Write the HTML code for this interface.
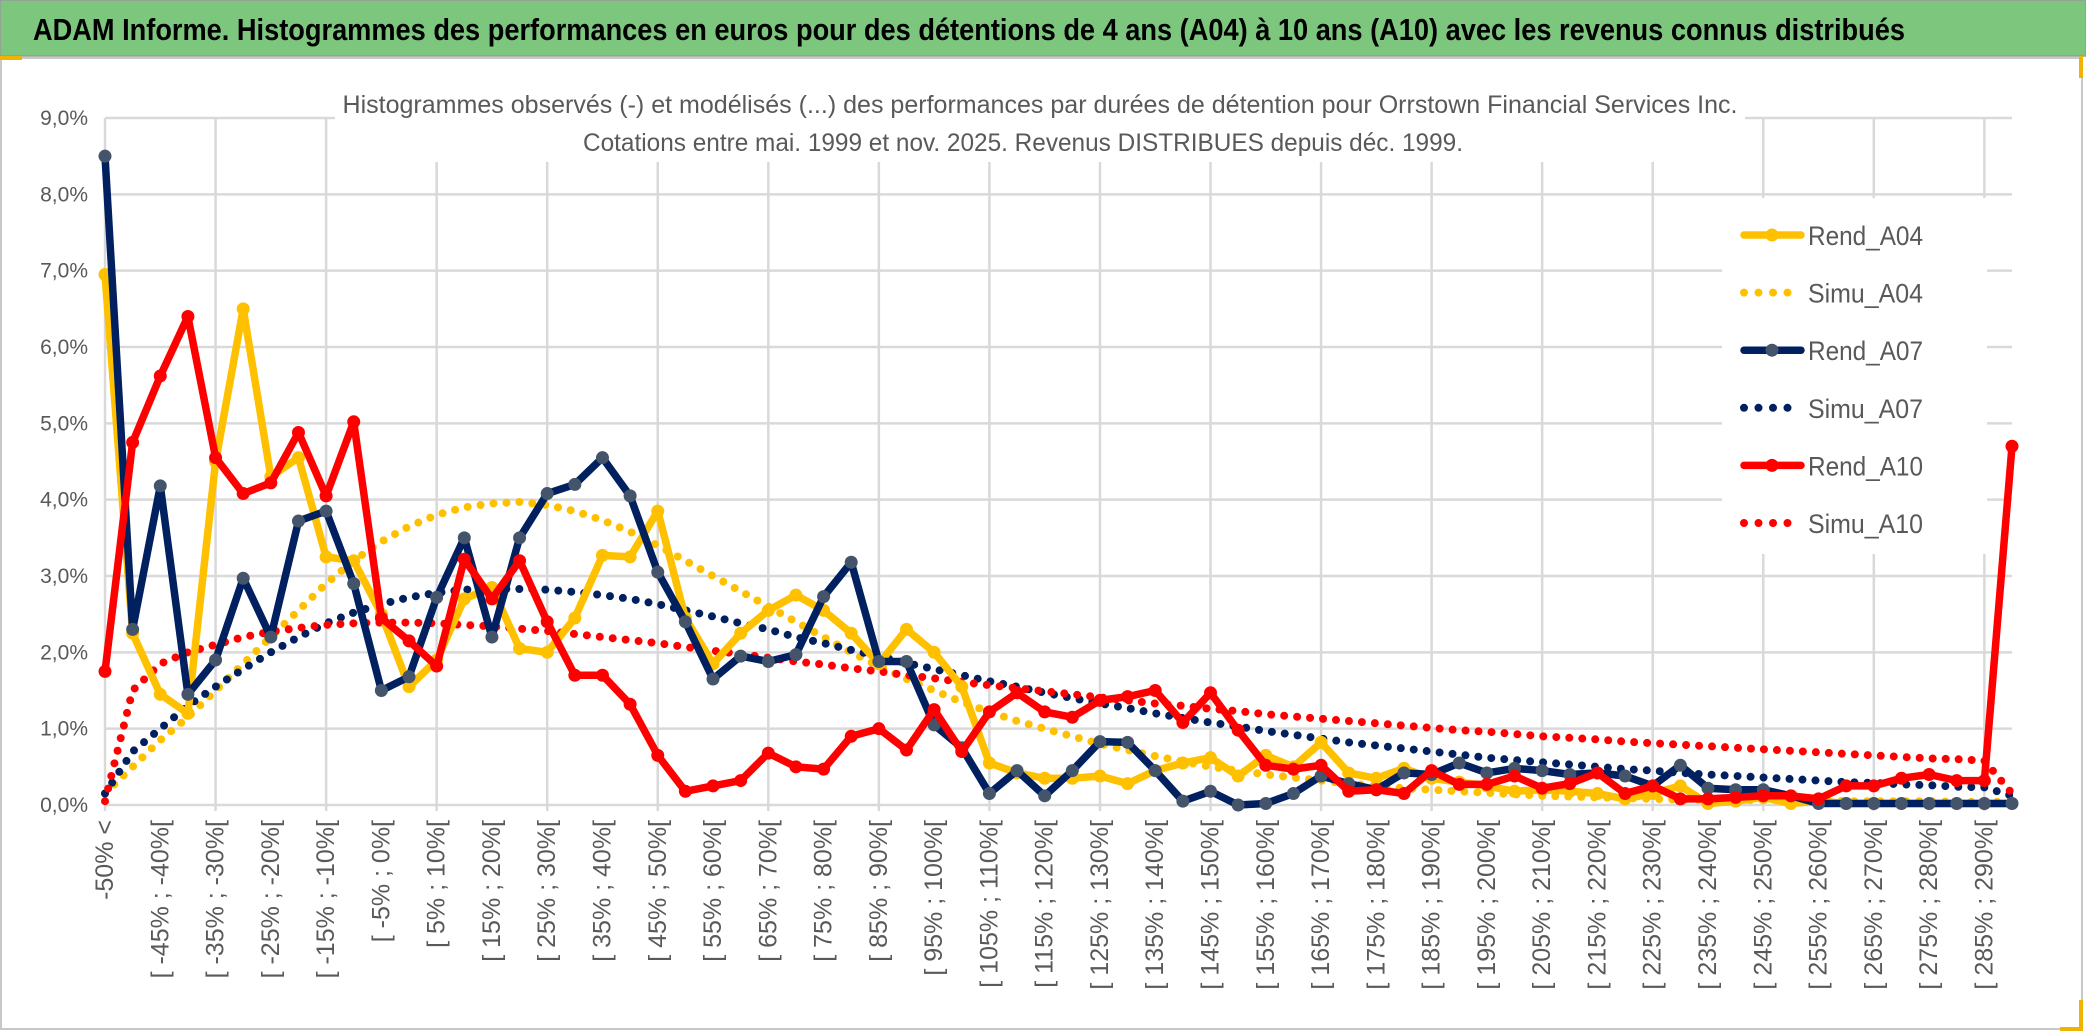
<!DOCTYPE html>
<html><head><meta charset="utf-8"><style>
html,body{margin:0;padding:0;background:#fff;}
svg{display:block;font-family:"Liberation Sans",sans-serif;}
</style></head><body>
<svg id="chart" width="2086" height="1033" viewBox="0 0 2086 1033" xmlns="http://www.w3.org/2000/svg">
<rect x="0" y="0" width="2086" height="1033" fill="#fff"/>
<rect x="0" y="0" width="2086" height="56" fill="#7dc67d" stroke="#9a9a9a" stroke-width="1.5"/>
<text x="33" y="40" font-size="31" font-weight="bold" fill="#000" textLength="1872" lengthAdjust="spacingAndGlyphs">ADAM Informe. Histogrammes des performances en euros pour des détentions de 4 ans (A04) à 10 ans (A10) avec les revenus connus distribués</text>
<rect x="1" y="58" width="2081" height="971" fill="#fff" stroke="#c8c8c8" stroke-width="2"/>
<rect x="0" y="56" width="22" height="4" fill="#f0b400"/>
<rect x="2079" y="56" width="4" height="22" fill="#f0b400"/>
<rect x="2079" y="1000" width="4" height="30" fill="#f0b400"/>
<rect x="2060" y="1027" width="23" height="4" fill="#f0b400"/>
<g id="grid"></g>
<g id="yaxis"></g>
<g id="xaxis"></g>
<rect x="335" y="82" width="1410" height="80" fill="#fff"/>
<text x="1040" y="113" font-size="25" fill="#595959" text-anchor="middle" textLength="1395" lengthAdjust="spacingAndGlyphs">Histogrammes observés (-) et modélisés (...) des performances par durées de détention pour Orrstown Financial Services Inc.</text>
<text x="1023" y="151" font-size="25" fill="#595959" text-anchor="middle" textLength="880" lengthAdjust="spacingAndGlyphs">Cotations entre mai. 1999 et nov. 2025. Revenus DISTRIBUES depuis déc. 1999.</text>
<g id="series"></g>
<rect x="1722" y="198" width="265" height="356" fill="#fff"/>
<g id="legend"></g>
</svg>
<script>
const categories = ["-50% <"];
for (let a = -50; a < 295; a += 5) categories.push("[ " + a + "% ; " + (a + 5) + "%[");
const yTicks = [0,1,2,3,4,5,6,7,8,9];
const yTickLabels = ["0,0%","1,0%","2,0%","3,0%","4,0%","5,0%","6,0%","7,0%","8,0%","9,0%"];
const rendA04 = [6.95,2.25,1.45,1.2,4.5,6.5,4.3,4.55,3.25,3.2,2.5,1.55,1.9,2.7,2.85,2.05,2.0,2.45,3.27,3.25,3.85,2.45,1.85,2.25,2.55,2.75,2.55,2.25,1.85,2.3,2.0,1.55,0.55,0.42,0.35,0.35,0.38,0.28,0.45,0.55,0.62,0.38,0.65,0.5,0.82,0.42,0.35,0.48,0.35,0.3,0.25,0.18,0.2,0.18,0.15,0.08,0.15,0.25,0.02,0.05,0.1,0.02,0.05,0.02,0.02,0.02,0.02,0.02,0.02,0.02];
const rendA07 = [8.5,2.3,4.18,1.45,1.9,2.97,2.2,3.72,3.85,2.9,1.5,1.68,2.72,3.5,2.2,3.5,4.08,4.2,4.55,4.05,3.05,2.4,1.65,1.95,1.88,1.97,2.73,3.18,1.88,1.88,1.05,0.75,0.15,0.45,0.12,0.45,0.83,0.82,0.45,0.05,0.18,0.0,0.02,0.15,0.38,0.28,0.2,0.42,0.4,0.55,0.42,0.48,0.45,0.4,0.42,0.38,0.25,0.52,0.22,0.2,0.2,0.12,0.02,0.02,0.02,0.02,0.02,0.02,0.02,0.02];
const rendA10 = [1.75,4.75,5.62,6.4,4.55,4.08,4.22,4.88,4.05,5.02,2.45,2.15,1.82,3.22,2.7,3.2,2.4,1.7,1.7,1.32,0.65,0.18,0.25,0.32,0.68,0.5,0.47,0.9,1.0,0.72,1.25,0.7,1.22,1.47,1.22,1.15,1.37,1.42,1.5,1.08,1.47,0.98,0.52,0.47,0.52,0.18,0.2,0.15,0.45,0.27,0.27,0.38,0.22,0.28,0.42,0.15,0.25,0.08,0.08,0.1,0.12,0.12,0.08,0.25,0.25,0.35,0.4,0.32,0.32,4.7];
const simuA04 = [0.15,0.5,0.85,1.15,1.5,1.85,2.2,2.55,2.9,3.2,3.45,3.65,3.8,3.9,3.95,3.97,3.93,3.85,3.73,3.58,3.4,3.2,3.0,2.8,2.6,2.4,2.2,2.0,1.82,1.65,1.5,1.35,1.22,1.1,1.0,0.9,0.8,0.72,0.64,0.57,0.5,0.45,0.4,0.36,0.32,0.28,0.25,0.22,0.2,0.18,0.16,0.14,0.12,0.11,0.1,0.09,0.08,0.07,0.07,0.07,0.06,0.06,0.06,0.05,0.05,0.05,0.05,0.04,0.04,0.04];
const simuA07 = [0.15,0.7,1.0,1.3,1.55,1.78,2.0,2.2,2.38,2.52,2.63,2.72,2.78,2.82,2.83,2.83,2.82,2.79,2.75,2.7,2.63,2.55,2.47,2.38,2.3,2.2,2.12,2.03,1.95,1.86,1.78,1.7,1.62,1.55,1.47,1.4,1.33,1.27,1.2,1.14,1.08,1.03,0.97,0.92,0.87,0.82,0.78,0.74,0.7,0.66,0.62,0.59,0.56,0.53,0.5,0.47,0.45,0.42,0.4,0.38,0.36,0.34,0.32,0.3,0.29,0.27,0.26,0.24,0.23,0.12];
const simuA10 = [0.05,1.5,1.85,2.0,2.1,2.2,2.27,2.32,2.36,2.38,2.39,2.39,2.38,2.36,2.34,2.31,2.28,2.24,2.2,2.16,2.12,2.07,2.02,1.98,1.93,1.88,1.84,1.79,1.75,1.7,1.66,1.61,1.57,1.53,1.49,1.45,1.41,1.37,1.33,1.3,1.26,1.23,1.19,1.16,1.13,1.1,1.07,1.04,1.01,0.98,0.96,0.93,0.9,0.88,0.86,0.83,0.81,0.79,0.77,0.75,0.73,0.71,0.69,0.67,0.65,0.63,0.61,0.6,0.58,0.15];
const seriesNames = ["Rend_A04","Simu_A04","Rend_A07","Simu_A07","Rend_A10","Simu_A10"];

const NS = "http://www.w3.org/2000/svg";
const X0 = 105, X1 = 2012, Y0 = 805, YTOP = 118;
const yMax = 9;
function xPos(i){ return X0 + i * (X1 - X0) / (categories.length - 1); }
function yPos(v){ return Y0 - v * (Y0 - YTOP) / yMax; }
function mk(tag, attrs, parent){ const e = document.createElementNS(NS, tag); for (const k in attrs) e.setAttribute(k, attrs[k]); parent.appendChild(e); return e; }

const grid = document.getElementById('grid');
yTicks.forEach(t => {
  const l = mk('line', {x1:X0, x2:X1, y1:yPos(t), y2:yPos(t), stroke:'#d9d9d9', 'stroke-width':2.5}, grid);
  
  
});
for (let i = 0; i < categories.length; i += 4) {
  const l = mk('line', {x1:xPos(i), x2:xPos(i), y1:YTOP, y2:Y0 + 6, stroke:'#d9d9d9', 'stroke-width':2.5}, grid);
  
  
}
const yaxis = document.getElementById('yaxis');
yTicks.forEach((t, k) => {
  const tx = mk('text', {x:88, y:yPos(t) + 7, 'font-size':21, fill:'#595959', 'text-anchor':'end'}, yaxis);
  tx.textContent = yTickLabels[k];
  
  
});
const xaxis = document.getElementById('xaxis');
categories.forEach((c, i) => {
  if (i % 2) return;
  const x = xPos(i) + 8, y = 820;
  const tx = mk('text', {x:x, y:y, 'font-size':25, fill:'#595959', 'text-anchor':'end', transform:'rotate(-90 ' + x + ' ' + y + ')'}, xaxis);
  tx.textContent = c;
  
  
});

const series = document.getElementById('series');
function pts(arr){ return arr.map((v, i) => xPos(i).toFixed(1) + ',' + yPos(v).toFixed(1)).join(' '); }
function dotted(arr, color, name){
  const p = mk('polyline', {points:pts(arr), fill:'none', stroke:color, 'stroke-width':8, 'stroke-linecap':'round', 'stroke-dasharray':'0 13'}, series);
  
  
}
function solid(arr, color, mcolor, name){
  const p = mk('polyline', {points:pts(arr), fill:'none', stroke:color, 'stroke-width':7.5, 'stroke-linejoin':'round'}, series);
  
  
  arr.forEach((v, i) => {
    const c = mk('circle', {cx:xPos(i), cy:yPos(v), r:6.5, fill:mcolor}, series);
    
    
  });
}
dotted(simuA04, '#ffc000', 'simu-a04-line');
dotted(simuA07, '#002060', 'simu-a07-line');
dotted(simuA10, '#ff0000', 'simu-a10-line');
solid(rendA04, '#ffc000', '#ffc000', 'rend-a04-line');
solid(rendA07, '#002060', '#44546a', 'rend-a07-line');
solid(rendA10, '#ff0000', '#ff0000', 'rend-a10-line');

const legend = document.getElementById('legend');
const legColors = ['#ffc000','#ffc000','#002060','#002060','#ff0000','#ff0000'];
const legMarker = ['#ffc000',null,'#44546a',null,'#ff0000',null];
seriesNames.forEach((n, k) => {
  const y = 235 + k * 57.6;
  const g = mk('g', {}, legend);
  
  
  if (legMarker[k]) {
    mk('line', {x1:1744, x2:1801, y1:y, y2:y, stroke:legColors[k], 'stroke-width':7.5, 'stroke-linecap':'round'}, g);
    mk('circle', {cx:1772, cy:y, r:6.5, fill:legMarker[k]}, g);
  } else {
    mk('line', {x1:1744, x2:1801, y1:y, y2:y, stroke:legColors[k], 'stroke-width':8, 'stroke-linecap':'round', 'stroke-dasharray':'0 14.5'}, g);
  }
  const t = mk('text', {x:1808, y:y + 10, 'font-size':27, fill:'#595959', textLength:115, lengthAdjust:'spacingAndGlyphs'}, g);
  t.textContent = n;
});
</script>
</body></html>
